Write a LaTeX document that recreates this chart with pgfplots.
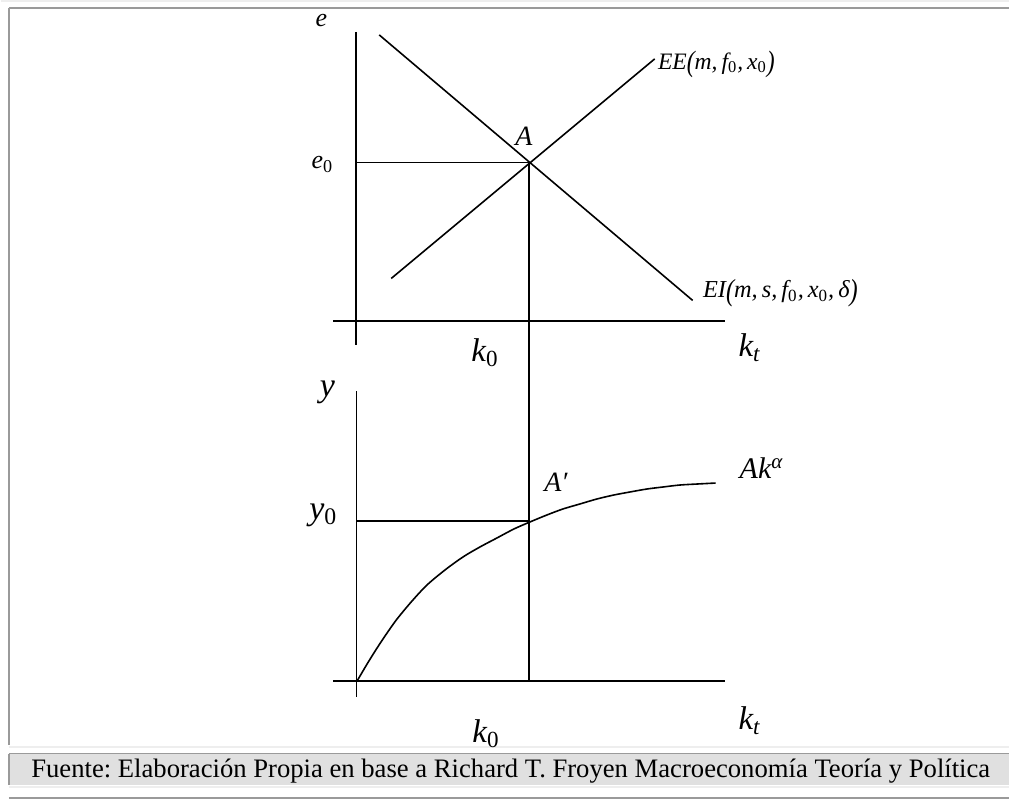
\documentclass[border=0pt]{standalone}
\usepackage{fontspec}
\setmainfont{Liberation Serif}
\usepackage{pgfplots}
\pgfplotsset{compat=1.18}
\definecolor{framegray}{HTML}{9A9A9A}
\definecolor{lightgray2}{HTML}{EEEEEE}
\definecolor{capfill}{HTML}{E0E0E0}
\newcommand{\sub}[1]{\textsubscript{\upshape #1}}
\newcommand{\isub}[1]{\textsubscript{\itshape #1}}
\newcommand{\bp}[1]{\raisebox{-0.12em}{\scalebox{1}[1.25]{#1}}}
\frenchspacing
\begin{document}
\begin{tikzpicture}
\begin{axis}[width=505pt,height=401pt,scale only axis,
  xmin=0,xmax=1010,ymin=0,ymax=802,y dir=reverse,
  axis lines=none,clip=false]
% background and frame
\fill[white] (axis cs:0,0) rectangle (axis cs:1010,802);
\draw[lightgray2,line width=1pt] (axis cs:0,1) -- (axis cs:1010,1);
\draw[framegray,line width=0.7pt] (axis cs:8,8) -- (axis cs:1010,8);
\draw[framegray,line width=0.7pt] (axis cs:8,8) -- (axis cs:8,746);
\draw[lightgray2,line width=1pt] (axis cs:8,748) -- (axis cs:1010,748);
\fill[capfill] (axis cs:8,755) rectangle (axis cs:1010,787);
\draw[framegray,line width=0.8pt] (axis cs:8,755) -- (axis cs:1010,755);
\draw[framegray,line width=0.8pt] (axis cs:8,755) -- (axis cs:8,787);
\draw[lightgray2,line width=1pt] (axis cs:8,789) -- (axis cs:1010,789);
\draw[framegray,line width=1pt] (axis cs:8,800) -- (axis cs:1010,800);
\node[anchor=base west,inner sep=0pt,font=\fontsize{13.35}{15}\selectfont] at (axis cs:30,779)
  {Fuente: Elaboración Propia en base a Richard T. Froyen Macroeconomía Teoría y Política};
% top panel axes
\addplot[black,line width=1pt] coordinates {(356,32) (356,346)};
\addplot[black,line width=1pt] coordinates {(333,322) (725,322)};
% EI and EE
\addplot[black,line width=0.8pt] coordinates {(379,35) (693,301)};
\addplot[black,line width=0.8pt] coordinates {(391,279) (655,59)};
% e0 and k0 guides
\addplot[black,line width=0.8pt] coordinates {(356,163) (529,163)};
\addplot[black,line width=0.8pt] coordinates {(529,163) (529,682)};
% bottom panel axes
\addplot[black,line width=0.8pt] coordinates {(356,392) (356,698)};
\addplot[black,line width=1pt] coordinates {(333,682) (725,682)};
\addplot[black,line width=0.8pt] coordinates {(356,522) (529,522)};
% production function
\addplot[black,line width=0.8pt,smooth,tension=0.5] coordinates {
(357,682)(367,665)(377,649)(387,634)(397,620)(412,602)(427,586)(445,571)
(463,558)(480,548)(497,539)(514,530)(530,523)(547,516)(563,510)(580,505)
(597,500)(614,496)(630,493)(647,490)(663,488)(680,486)(697,485)(716,484)};
% labels
\node[font=\fontsize{13}{14}\selectfont\itshape] at (axis cs:321,21) {e};
\node[font=\fontsize{13}{14}\selectfont\itshape] at (axis cs:322,165) {e\sub{0}};
\node[font=\fontsize{14}{16}\selectfont\itshape] at (axis cs:524,137) {A};
\node[anchor=west,inner sep=0pt,font=\fontsize{11.8}{13}\selectfont\itshape] at (axis cs:658,65)
  {EE\bp{(}m,\,f\sub{0},\,x\sub{0}\bp{)}};
\node[anchor=west,inner sep=0pt,font=\fontsize{12.2}{13}\selectfont\itshape] at (axis cs:703,294)
  {EI\bp{(}m,\,s,\,f\sub{0},\,x\sub{0},\,δ\bp{)}};
\node[font=\fontsize{16.5}{18}\selectfont\itshape] at (axis cs:485,353) {k\sub{0}};
\node[font=\fontsize{16.5}{18}\selectfont\itshape] at (axis cs:750,348) {k\isub{t}};
\node[font=\fontsize{17}{18}\selectfont\itshape] at (axis cs:327,393) {y};
\node[font=\fontsize{17}{18}\selectfont\itshape] at (axis cs:323,516) {y\sub{0}};
\node[font=\fontsize{14}{16}\selectfont\itshape] at (axis cs:556,483) {A′};
\node[font=\fontsize{15}{17}\selectfont\itshape] at (axis cs:762,469) {Ak\textsuperscript{α}};
\node[font=\fontsize{16.5}{18}\selectfont\itshape] at (axis cs:486,735) {k\sub{0}};
\node[font=\fontsize{16.5}{18}\selectfont\itshape] at (axis cs:750,722) {k\isub{t}};
\end{axis}
\end{tikzpicture}
\end{document}
